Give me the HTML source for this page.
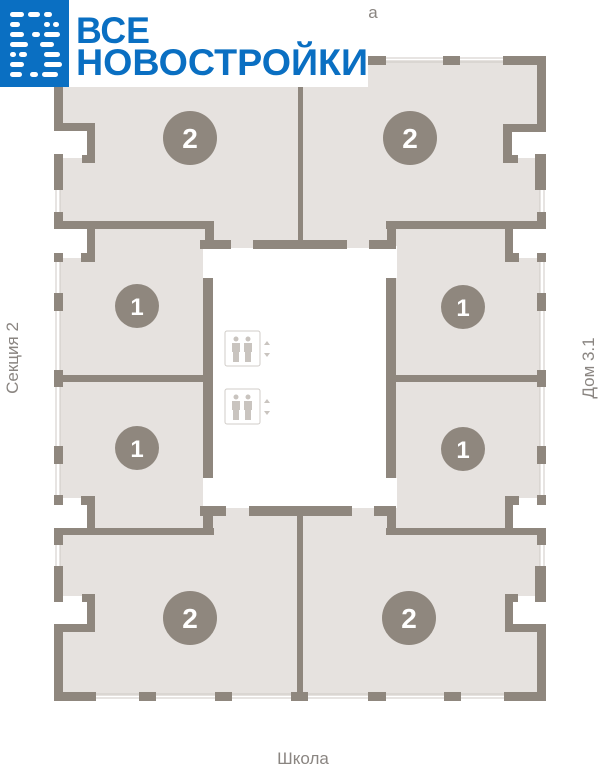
<!DOCTYPE html>
<html><head><meta charset="utf-8"><style>
html,body{margin:0;padding:0;background:#fff;width:601px;height:768px;overflow:hidden}
svg{display:block}
</style></head><body>
<svg width="601" height="768" viewBox="0 0 601 768" xmlns="http://www.w3.org/2000/svg">
<rect x="60" y="60" width="480" height="636" fill="#e6e2df"/>
<g fill="#fff">
<rect x="213" y="248" width="174" height="260"/>
<rect x="203" y="246" width="10" height="32"/>
<rect x="387" y="246" width="10" height="32"/>
<rect x="203" y="478" width="10" height="30"/>
<rect x="387" y="478" width="10" height="30"/>
<rect x="50" y="124" width="40" height="34"/>
<rect x="510" y="124" width="40" height="34"/>
<rect x="50" y="228" width="37" height="30"/>
<rect x="513" y="228" width="37" height="30"/>
<rect x="50" y="498" width="37" height="30"/>
<rect x="513" y="498" width="37" height="30"/>
<rect x="50" y="596" width="40" height="33"/>
<rect x="510" y="596" width="40" height="33"/>
</g>
<g stroke="#cfcac6" stroke-width="1" fill="none">
<line x1="56" y1="160" x2="56" y2="222"/><line x1="60" y1="160" x2="60" y2="222"/>
<line x1="540" y1="160" x2="540" y2="222"/><line x1="544" y1="160" x2="544" y2="222"/>
<line x1="56" y1="262" x2="56" y2="495"/><line x1="60" y1="262" x2="60" y2="495"/>
<line x1="540" y1="262" x2="540" y2="495"/><line x1="544" y1="262" x2="544" y2="495"/>
<line x1="56" y1="535" x2="56" y2="596"/><line x1="60" y1="535" x2="60" y2="596"/>
<line x1="540" y1="535" x2="540" y2="596"/><line x1="544" y1="535" x2="544" y2="596"/>
<line x1="95" y1="694" x2="504" y2="694"/><line x1="95" y1="698" x2="504" y2="698"/>
<line x1="370" y1="58" x2="504" y2="58"/><line x1="370" y1="62" x2="504" y2="62"/>
</g>
<g fill="#8f877e">
<rect x="54" y="56" width="12" height="8"/>
<rect x="366" y="56" width="20" height="9"/>
<rect x="443" y="56" width="17" height="9"/>
<rect x="503" y="56" width="43" height="9"/>
<rect x="54" y="56" width="9" height="70"/>
<rect x="537" y="56" width="9" height="76"/>
<rect x="54" y="123" width="41" height="8"/>
<rect x="87" y="123" width="8" height="40"/>
<rect x="82" y="155" width="13" height="8"/>
<rect x="54" y="154" width="9" height="36"/>
<rect x="54" y="212" width="9" height="16"/>
<rect x="503" y="124" width="43" height="8"/>
<rect x="503" y="124" width="9" height="39"/>
<rect x="503" y="155" width="15" height="8"/>
<rect x="535" y="154" width="11" height="36"/>
<rect x="537" y="212" width="9" height="16"/>
<rect x="298" y="63" width="5" height="180"/>
<rect x="54" y="221" width="160" height="8"/>
<rect x="386" y="221" width="160" height="8"/>
<rect x="205" y="221" width="9" height="27"/>
<rect x="387" y="221" width="9" height="27"/>
<rect x="200" y="240" width="31" height="9"/>
<rect x="369" y="240" width="27" height="9"/>
<rect x="253" y="240" width="94" height="9"/>
<rect x="87" y="221" width="8" height="41"/>
<rect x="81" y="253" width="14" height="9"/>
<rect x="54" y="253" width="9" height="9"/>
<rect x="54" y="293" width="9" height="18"/>
<rect x="54" y="370" width="9" height="17"/>
<rect x="54" y="446" width="9" height="18"/>
<rect x="54" y="495" width="9" height="10"/>
<rect x="54" y="375" width="151" height="7"/>
<rect x="203" y="278" width="10" height="200"/>
<rect x="81" y="496" width="14" height="9"/>
<rect x="87" y="496" width="8" height="38"/>
<rect x="505" y="221" width="8" height="41"/>
<rect x="505" y="253" width="14" height="9"/>
<rect x="537" y="253" width="9" height="9"/>
<rect x="537" y="293" width="9" height="18"/>
<rect x="537" y="370" width="9" height="17"/>
<rect x="537" y="446" width="9" height="18"/>
<rect x="537" y="495" width="9" height="10"/>
<rect x="396" y="375" width="150" height="7"/>
<rect x="386" y="278" width="10" height="200"/>
<rect x="505" y="496" width="14" height="9"/>
<rect x="505" y="496" width="8" height="38"/>
<rect x="200" y="506" width="26" height="10"/>
<rect x="203" y="506" width="10" height="28"/>
<rect x="374" y="506" width="22" height="10"/>
<rect x="387" y="506" width="9" height="28"/>
<rect x="249" y="506" width="103" height="10"/>
<rect x="297" y="506" width="6" height="190"/>
<rect x="54" y="528" width="160" height="7"/>
<rect x="386" y="528" width="160" height="7"/>
<rect x="54" y="528" width="9" height="17"/>
<rect x="537" y="528" width="9" height="17"/>
<rect x="54" y="566" width="9" height="36"/>
<rect x="535" y="566" width="11" height="36"/>
<rect x="82" y="594" width="13" height="8"/>
<rect x="87" y="594" width="8" height="38"/>
<rect x="54" y="624" width="41" height="8"/>
<rect x="54" y="624" width="9" height="76"/>
<rect x="505" y="594" width="13" height="8"/>
<rect x="505" y="594" width="8" height="38"/>
<rect x="505" y="624" width="41" height="8"/>
<rect x="537" y="624" width="9" height="76"/>
<rect x="54" y="692" width="42" height="9"/>
<rect x="139" y="692" width="17" height="9"/>
<rect x="215" y="692" width="17" height="9"/>
<rect x="291" y="692" width="17" height="9"/>
<rect x="368" y="692" width="18" height="9"/>
<rect x="444" y="692" width="17" height="9"/>
<rect x="504" y="692" width="42" height="9"/>
<circle cx="190" cy="138" r="27"/><circle cx="410" cy="138" r="27"/>
<circle cx="137" cy="306" r="22"/><circle cx="463" cy="307" r="22"/>
<circle cx="137" cy="448" r="22"/><circle cx="463" cy="449" r="22"/>
<circle cx="190" cy="618" r="27"/><circle cx="409" cy="618" r="27"/>
</g>
<g fill="#fff" font-family="Liberation Sans, sans-serif" font-weight="bold" text-anchor="middle">
<text x="190" y="148" font-size="28">2</text><text x="410" y="148" font-size="28">2</text>
<text x="137" y="315" font-size="24">1</text><text x="463" y="316" font-size="24">1</text>
<text x="137" y="457" font-size="24">1</text><text x="463" y="458" font-size="24">1</text>
<text x="190" y="628" font-size="28">2</text><text x="409" y="628" font-size="28">2</text>
</g>
<g fill="none" stroke="#d0ccc8" stroke-width="1">
<rect x="225" y="331" width="35" height="35" rx="2"/>
<rect x="225" y="389" width="35" height="35" rx="2"/>
</g>
<g fill="#c9c4bf">
<circle cx="236" cy="339" r="2.5"/><rect x="232" y="343" width="8" height="9"/><rect x="233" y="352" width="6" height="10"/>
<circle cx="248" cy="339" r="2.5"/><rect x="244" y="343" width="8" height="9"/><rect x="245" y="352" width="6" height="10"/>
<circle cx="236" cy="397" r="2.5"/><rect x="232" y="401" width="8" height="9"/><rect x="233" y="410" width="6" height="10"/>
<circle cx="248" cy="397" r="2.5"/><rect x="244" y="401" width="8" height="9"/><rect x="245" y="410" width="6" height="10"/>
<polygon points="264,345 270,345 267,341"/><polygon points="264,353 270,353 267,357"/>
<polygon points="264,403 270,403 267,399"/><polygon points="264,411 270,411 267,415"/>
</g>
<g fill="#8a8581" font-family="Liberation Sans, sans-serif" font-size="17">
<text x="373" y="18" text-anchor="middle">а</text>
<text x="303" y="764" text-anchor="middle">Школа</text>
<text transform="translate(18,358) rotate(-90)" text-anchor="middle">Секция 2</text>
<text transform="translate(594,368) rotate(-90)" text-anchor="middle">Дом 3.1</text>
</g>
<rect x="0" y="0" width="69" height="87" fill="#0a6fc2"/>
<rect x="69" y="0" width="299" height="87" fill="#fff"/>
<g fill="#fff">
<rect x="10" y="12" width="14" height="5" rx="2.5"/><rect x="28" y="12" width="12" height="5" rx="2.5"/><rect x="44" y="12" width="8" height="5" rx="2.5"/>
<rect x="10" y="22" width="10" height="5" rx="2.5"/><rect x="44" y="22" width="6" height="5" rx="2.5"/><rect x="53" y="22" width="6" height="5" rx="2.5"/>
<rect x="10" y="32" width="14" height="5" rx="2.5"/><rect x="32" y="32" width="8" height="5" rx="2.5"/><rect x="44" y="32" width="16" height="5" rx="2.5"/>
<rect x="10" y="42" width="18" height="5" rx="2.5"/><rect x="40" y="42" width="14" height="5" rx="2.5"/>
<rect x="10" y="52" width="6" height="5" rx="2.5"/><rect x="19" y="52" width="8" height="5" rx="2.5"/><rect x="44" y="52" width="16" height="5" rx="2.5"/>
<rect x="10" y="62" width="14" height="5" rx="2.5"/><rect x="44" y="62" width="18" height="5" rx="2.5"/>
<rect x="10" y="72" width="12" height="5" rx="2.5"/><rect x="30" y="72" width="8" height="5" rx="2.5"/><rect x="42" y="72" width="16" height="5" rx="2.5"/>
</g>
<g fill="#0a6fc2" font-family="Liberation Sans, sans-serif" font-weight="bold">
<text x="76" y="43" font-size="37" textLength="74" lengthAdjust="spacingAndGlyphs">ВСЕ</text>
<text x="76" y="75" font-size="37" textLength="292" lengthAdjust="spacingAndGlyphs">НОВОСТРОЙКИ</text>
</g>
</svg>
</body></html>
